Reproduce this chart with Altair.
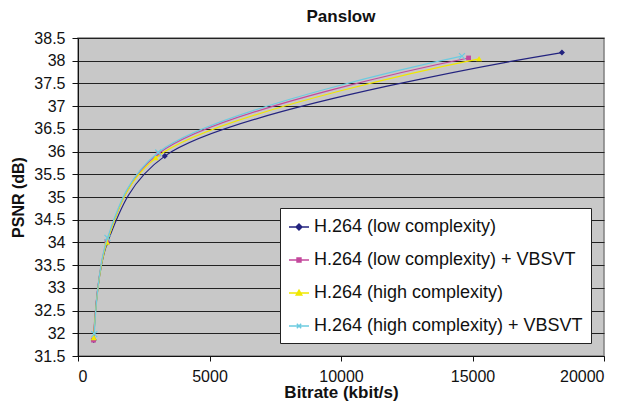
import altair as alt
import pandas as pd

series_names = [
    "H.264 (low complexity)",
    "H.264 (low complexity) + VBSVT",
    "H.264 (high complexity)",
    "H.264 (high complexity) + VBSVT",
]
low_x = [600, 1120, 3300, 18400]
low_y = [31.85, 34.0, 35.9, 38.18]
low_v_x = [590, 1100, 3050, 14850]
low_v_y = [31.85, 34.02, 35.95, 38.06]
high_x = [600, 1100, 2950, 15250]
high_y = [31.9, 34.0, 35.86, 38.04]
high_v_x = [620, 1120, 3050, 14600]
high_v_y = [31.98, 34.1, 35.98, 38.1]

colors = ["#23237f", "#c4489c", "#f0e800", "#6ccbe0"]
shapes = [
    "M0,-1L1,0L0,1L-1,0Z",
    "M-0.8,-0.8H0.8V0.8H-0.8Z",
    "M0,-1L1,0.8H-1Z",
    "M-1,-1L1,1M-1,1L1,-1",
]
filled_flags = [True, True, True, False]
legend_shapes = [
    "M-1,0H1M0,-0.3L0.3,0L0,0.3L-0.3,0ZM0,-0.15L0.15,0L0,0.15L-0.15,0Z",
    "M-1,0H1M-0.2,-0.2H0.2V0.2H-0.2ZM-0.1,-0.1H0.1V0.1H-0.1Z",
    "M-1,0H1M0,-0.28L0.28,0.2H-0.28ZM0,-0.12L0.12,0.1H-0.12Z",
    "M-1,0H1M-0.22,-0.22L0.22,0.22M-0.22,0.22L0.22,-0.22",
]

rows = []
for name, xs, ys in zip(series_names,
                        [low_x, low_v_x, high_x, high_v_x],
                        [low_y, low_v_y, high_y, high_v_y]):
    for i, (x, y) in enumerate(zip(xs, ys)):
        rows.append({"series": name, "bitrate": x, "psnr": y, "order": i})
df = pd.DataFrame(rows)

font = "Liberation Sans"
xscale = alt.Scale(domain=[0, 20000], nice=False)
yscale = alt.Scale(domain=[31.5, 38.5], nice=False, zero=False)

x_enc = alt.X("bitrate:Q", scale=xscale,
              axis=alt.Axis(title="Bitrate (kbit/s)", values=[0, 5000, 10000, 15000, 20000],
                            format="d", grid=False, tickSize=5, labelPadding=7, titlePadding=0,
                            labelFontSize=16, titleFontSize=17))
y_enc = alt.Y("psnr:Q", scale=yscale,
              axis=alt.Axis(title="PSNR (dB)", values=[31.5 + 0.5 * i for i in range(15)],
                            format="~r", grid=True, gridColor="#222222", gridWidth=1,
                            tickSize=6, labelPadding=7, titlePadding=7,
                            labelFontSize=16, titleFontSize=16))

series_layers = []
for name, col, shp, fl in zip(series_names, colors, shapes, filled_flags):
    base = alt.Chart(df).transform_filter(alt.datum.series == name)
    series_layers.append(
        base.mark_line(interpolate="catmull-rom", strokeWidth=1.2, color=col).encode(
            x=x_enc, y=y_enc, order="order:Q")
    )
    series_layers.append(
        base.mark_point(shape=shp, size=36, opacity=1, filled=fl, strokeWidth=1.2, color=col).encode(
            x=x_enc, y=y_enc)
    )

leg = dict(
    title=None, orient="none", legendX=202, legendY=170,
    fillColor="white", strokeColor="#222222", padding=8,
    labelFontSize=18, labelFont=font, labelColor="#111111",
    rowPadding=13, symbolSize=400, symbolStrokeWidth=1.4, symbolOpacity=1,
    labelOffset=4, labelLimit=400,
)
lscale = alt.Scale(domain=series_names, range=colors)

legend_layer = alt.Chart(df).mark_point(opacity=0, filled=False, strokeWidth=1.2).encode(
    x=x_enc, y=y_enc,
    fill=alt.Fill("series:N", scale=lscale, sort=series_names, legend=alt.Legend(**leg)),
    stroke=alt.Stroke("series:N", scale=lscale, sort=series_names, legend=alt.Legend(**leg)),
    shape=alt.Shape("series:N", scale=alt.Scale(domain=series_names, range=legend_shapes),
                    sort=series_names, legend=alt.Legend(**leg)),
)

chart = alt.layer(*series_layers, legend_layer).properties(
    width=526, height=318,
    title=alt.Title("Panslow", fontSize=17, font=font, fontWeight="bold", color="#111111", offset=4),
    autosize=alt.AutoSizeParams(type="none"),
    padding={"left": 70, "top": 30, "right": 25, "bottom": 48},
    background="white",
).configure_view(
    fill="#c8c8c8", stroke="#808080", strokeWidth=1.5,
).configure_axis(
    labelFont=font, titleFont=font, labelColor="#111111", titleColor="#111111",
    domainColor="#111111", tickColor="#111111", titleFontWeight="bold",
)

chart.save("out.html", embed_options={"renderer": "svg", "actions": False})
